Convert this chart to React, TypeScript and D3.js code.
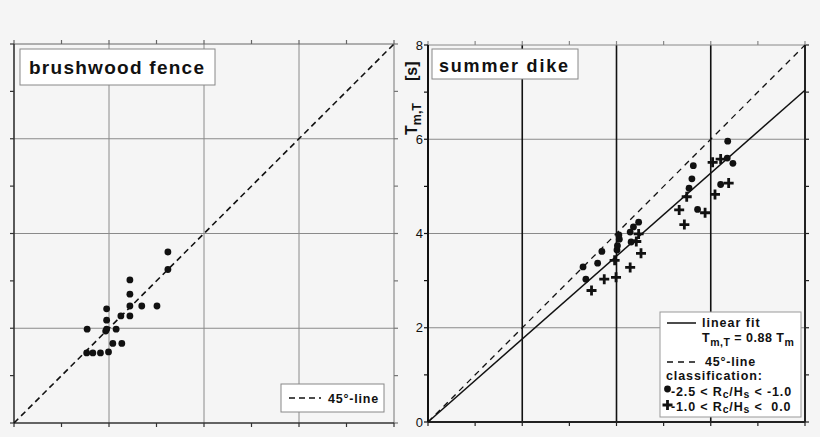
import React from 'react';
import * as d3 from 'd3';

// ---- data ----
const axisTicks = [0, 1, 2, 3, 4, 5, 6, 7, 8];
const gridValues = [2, 4, 6];
const yTickValues = [0, 2, 4, 6, 8];
const yTickLabels = ['0', '2', '4', '6', '8'];
const lineRange = [0, 8];
const fitSlope = 0.88;

const brushTm = [3.24, 3.24, 2.44, 2.44, 2.44, 2.69, 3.01, 1.95, 2.25, 2.44, 1.95, 1.54, 1.95, 2.15, 1.93, 2.08, 2.27, 1.53, 1.66, 1.82, 1.99];
const brushTmT = [3.61, 3.24, 3.02, 2.72, 2.47, 2.47, 2.47, 2.41, 2.26, 2.26, 2.17, 1.98, 1.98, 1.98, 1.94, 1.68, 1.68, 1.48, 1.48, 1.48, 1.50];

const dikeCircleTm = [3.29, 3.35, 3.60, 3.69, 4.01, 4.02, 4.06, 4.05, 4.29, 4.36, 4.47, 4.31, 5.63, 5.60, 5.54, 5.72, 6.36, 6.35, 6.47, 6.21];
const dikeCircleTmT = [3.29, 3.03, 3.37, 3.62, 3.65, 3.74, 3.88, 3.97, 4.03, 4.14, 4.24, 3.82, 5.44, 5.16, 4.96, 4.51, 5.96, 5.60, 5.49, 5.04];

const dikeCrossTm = [3.47, 3.74, 3.99, 3.96, 4.29, 4.52, 4.42, 4.47, 5.33, 5.44, 5.49, 5.88, 6.09, 6.38, 6.04, 6.21];
const dikeCrossTmT = [2.79, 3.03, 3.07, 3.43, 3.28, 3.58, 3.83, 3.99, 4.50, 4.19, 4.78, 4.44, 4.83, 5.07, 5.51, 5.58];

const FONT = '"Liberation Sans", Arial, Helvetica, sans-serif';
const INK = '#111';

type PanelProps = {
  x0: number; x1: number; y0: number; y1: number;
  vGridColor: string; vGridWidth: number;
  leftColor: string; leftWidth: number;
  rightColor: string; rightWidth: number;
  topColor: string; bottomColor: string; bottomWidth: number;
  children?: (sx: d3.ScaleLinear<number, number>, sy: d3.ScaleLinear<number, number>) => React.ReactNode;
};

function Panel(p: PanelProps) {
  const sx = d3.scaleLinear().domain([0, 8]).range([p.x0, p.x1]);
  const sy = d3.scaleLinear().domain([0, 8]).range([p.y1, p.y0]);
  const T = 4;
  return (
    <g>
      {gridValues.map((v) => (
        <line key={'hg' + v} x1={p.x0} x2={p.x1} y1={sy(v)} y2={sy(v)} stroke="#8a8a8a" strokeWidth={1} />
      ))}
      {gridValues.map((v) => (
        <line key={'vg' + v} x1={sx(v)} x2={sx(v)} y1={p.y0} y2={p.y1} stroke={p.vGridColor} strokeWidth={p.vGridWidth} />
      ))}
      {axisTicks.map((v) => (
        <g key={'t' + v}>
          <line x1={p.x0 - T} x2={p.x0} y1={sy(v)} y2={sy(v)} stroke={p.leftColor} strokeWidth={1.2} />
          <line x1={p.x1} x2={p.x1 + T} y1={sy(v)} y2={sy(v)} stroke={p.rightColor} strokeWidth={1.2} />
          <line x1={sx(v)} x2={sx(v)} y1={p.y0 - T} y2={p.y0} stroke={p.topColor} strokeWidth={1.2} />
          <line x1={sx(v)} x2={sx(v)} y1={p.y1} y2={p.y1 + T} stroke={p.bottomColor} strokeWidth={1.2} />
        </g>
      ))}
      <line x1={p.x0} x2={p.x1} y1={p.y0} y2={p.y0} stroke={p.topColor} strokeWidth={1} />
      <line x1={p.x1} x2={p.x1} y1={p.y0} y2={p.y1} stroke={p.rightColor} strokeWidth={p.rightWidth} />
      <line x1={p.x0} x2={p.x1} y1={p.y1} y2={p.y1} stroke={p.bottomColor} strokeWidth={p.bottomWidth} />
      <line x1={p.x0} x2={p.x0} y1={p.y0} y2={p.y1} stroke={p.leftColor} strokeWidth={p.leftWidth} />
      {p.children && p.children(sx, sy)}
    </g>
  );
}

function Dot({ x, y }: { x: number; y: number }) {
  return <circle cx={x} cy={y} r={3.4} fill={INK} />;
}
function Cross({ x, y }: { x: number; y: number }) {
  const a = 5;
  return <path d={`M${x - a},${y}H${x + a}M${x},${y - a}V${y + a}`} stroke={INK} strokeWidth={2.8} />;
}

export default function App() {
  const diag = d3.line<number>();
  return (
    <svg width={820} height={437} style={{ position: 'absolute', left: 0, top: 0 }} fontFamily={FONT}>
      <rect x={0} y={0} width={820} height={437} fill="#f5f5f5" />

      {/* ---------- left panel: brushwood fence ---------- */}
      <Panel x0={14} x1={394} y0={44} y1={423}
        vGridColor="#8a8a8a" vGridWidth={1}
        leftColor="#333" leftWidth={1.6}
        rightColor="#777" rightWidth={1}
        topColor="#666" bottomColor="#333" bottomWidth={1.6}>
        {(sx, sy) => (
          <g>
            <path d={diag(lineRange.map((v) => [sx(v), sy(v)] as [number, number])) || ''}
              stroke={INK} strokeWidth={1.6} strokeDasharray="6,4" fill="none" />
            {brushTm.map((v, i) => <Dot key={i} x={sx(v)} y={sy(brushTmT[i])} />)}
          </g>
        )}
      </Panel>
      <rect x={20} y={49} width={195} height={36} fill="#fff" stroke="#888" strokeWidth={1} />
      <text x={29} y={74} fontSize={19} fontWeight="bold" fill={INK} textLength={175} lengthAdjust="spacing">brushwood fence</text>

      <rect x={281} y={384} width={103} height={28} fill="#fff" stroke="#888" strokeWidth={1} />
      <line x1={289} x2={321} y1={398} y2={398} stroke={INK} strokeWidth={1.5} strokeDasharray="6,4" />
      <text x={328} y={403} fontSize={12.5} fontWeight="bold" fill={INK} letterSpacing={0.8}>45°-line</text>

      {/* ---------- right panel: summer dike ---------- */}
      <Panel x0={428} x1={805} y0={45} y1={422}
        vGridColor="#111" vGridWidth={1.6}
        leftColor="#111" leftWidth={2}
        rightColor="#222" rightWidth={2}
        topColor="#888" bottomColor="#222" bottomWidth={2}>
        {(sx, sy) => (
          <g>
            <path d={diag(lineRange.map((v) => [sx(v), sy(v)] as [number, number])) || ''}
              stroke={INK} strokeWidth={1.3} strokeDasharray="6,5" fill="none" />
            <path d={diag(lineRange.map((v) => [sx(v), sy(v * fitSlope)] as [number, number])) || ''}
              stroke={INK} strokeWidth={1.5} fill="none" />
            {dikeCircleTm.map((v, i) => <Dot key={'c' + i} x={sx(v)} y={sy(dikeCircleTmT[i])} />)}
            {dikeCrossTm.map((v, i) => <Cross key={'x' + i} x={sx(v)} y={sy(dikeCrossTmT[i])} />)}
            {yTickValues.map((v, i) => (
              <text key={'yl' + v} x={423} y={sy(v)} dy="0.35em" textAnchor="end" fontSize={13} fill={INK}>{yTickLabels[i]}</text>
            ))}
          </g>
        )}
      </Panel>

      {/* y-axis title */}
      <text transform="translate(417,135) rotate(-90)" fontWeight="bold" fill={INK}>
        <tspan fontSize={16}>T</tspan>
        <tspan fontSize={12.5} dy={4}>m,T</tspan>
        <tspan fontSize={16} dx={22} dy={-4}>[s]</tspan>
      </text>

      <rect x={432} y={49} width={146} height={30} fill="#fff" stroke="#888" strokeWidth={1} />
      <text x={439} y={71.5} fontSize={18} fontWeight="bold" fill={INK} textLength={129} lengthAdjust="spacing">summer dike</text>

      {/* legend */}
      <rect x={660} y={312} width={141} height={105} fill="#fff" stroke="#999" strokeWidth={1} />
      <line x1={667} x2={696} y1={323} y2={323} stroke={INK} strokeWidth={1.5} />
      <text x={702} y={327} fontSize={12.5} fontWeight="bold" fill={INK} letterSpacing={1}>linear fit</text>
      <text x={702} y={342} fontSize={12.5} fontWeight="bold" fill={INK} letterSpacing={0.5}>
        <tspan>T</tspan>
        <tspan fontSize={10.5} dy={4}>m,T</tspan>
        <tspan dy={-4}> = 0.88 T</tspan>
        <tspan fontSize={10.5} dy={4}>m</tspan>
      </text>
      <line x1={667} x2={696} y1={362} y2={362} stroke={INK} strokeWidth={1.3} strokeDasharray="6,5" />
      <text x={705} y={366} fontSize={12.5} fontWeight="bold" fill={INK} letterSpacing={0.8}>45°-line</text>
      <text x={666} y={380} fontSize={12.5} fontWeight="bold" fill={INK} letterSpacing={0.9}>classification:</text>
      <Dot x={667.5} y={389} />
      <text x={671} y={396} fontSize={12.5} fontWeight="bold" fill={INK} letterSpacing={0.85}>
        <tspan>-2.5 &lt; R</tspan>
        <tspan fontSize={10.5} dy={2}>c</tspan>
        <tspan dy={-2}>/H</tspan>
        <tspan fontSize={10.5} dy={2}>s</tspan>
        <tspan dy={-2}> &lt; -1.0</tspan>
      </text>
      <Cross x={667.5} y={405} />
      <text x={671} y={411} fontSize={12.5} fontWeight="bold" fill={INK} letterSpacing={0.85} style={{ whiteSpace: 'pre' }}>
        <tspan>-1.0 &lt; R</tspan>
        <tspan fontSize={10.5} dy={2}>c</tspan>
        <tspan dy={-2}>/H</tspan>
        <tspan fontSize={10.5} dy={2}>s</tspan>
        <tspan dy={-2}> &lt;  0.0</tspan>
      </text>
    </svg>
  );
}
